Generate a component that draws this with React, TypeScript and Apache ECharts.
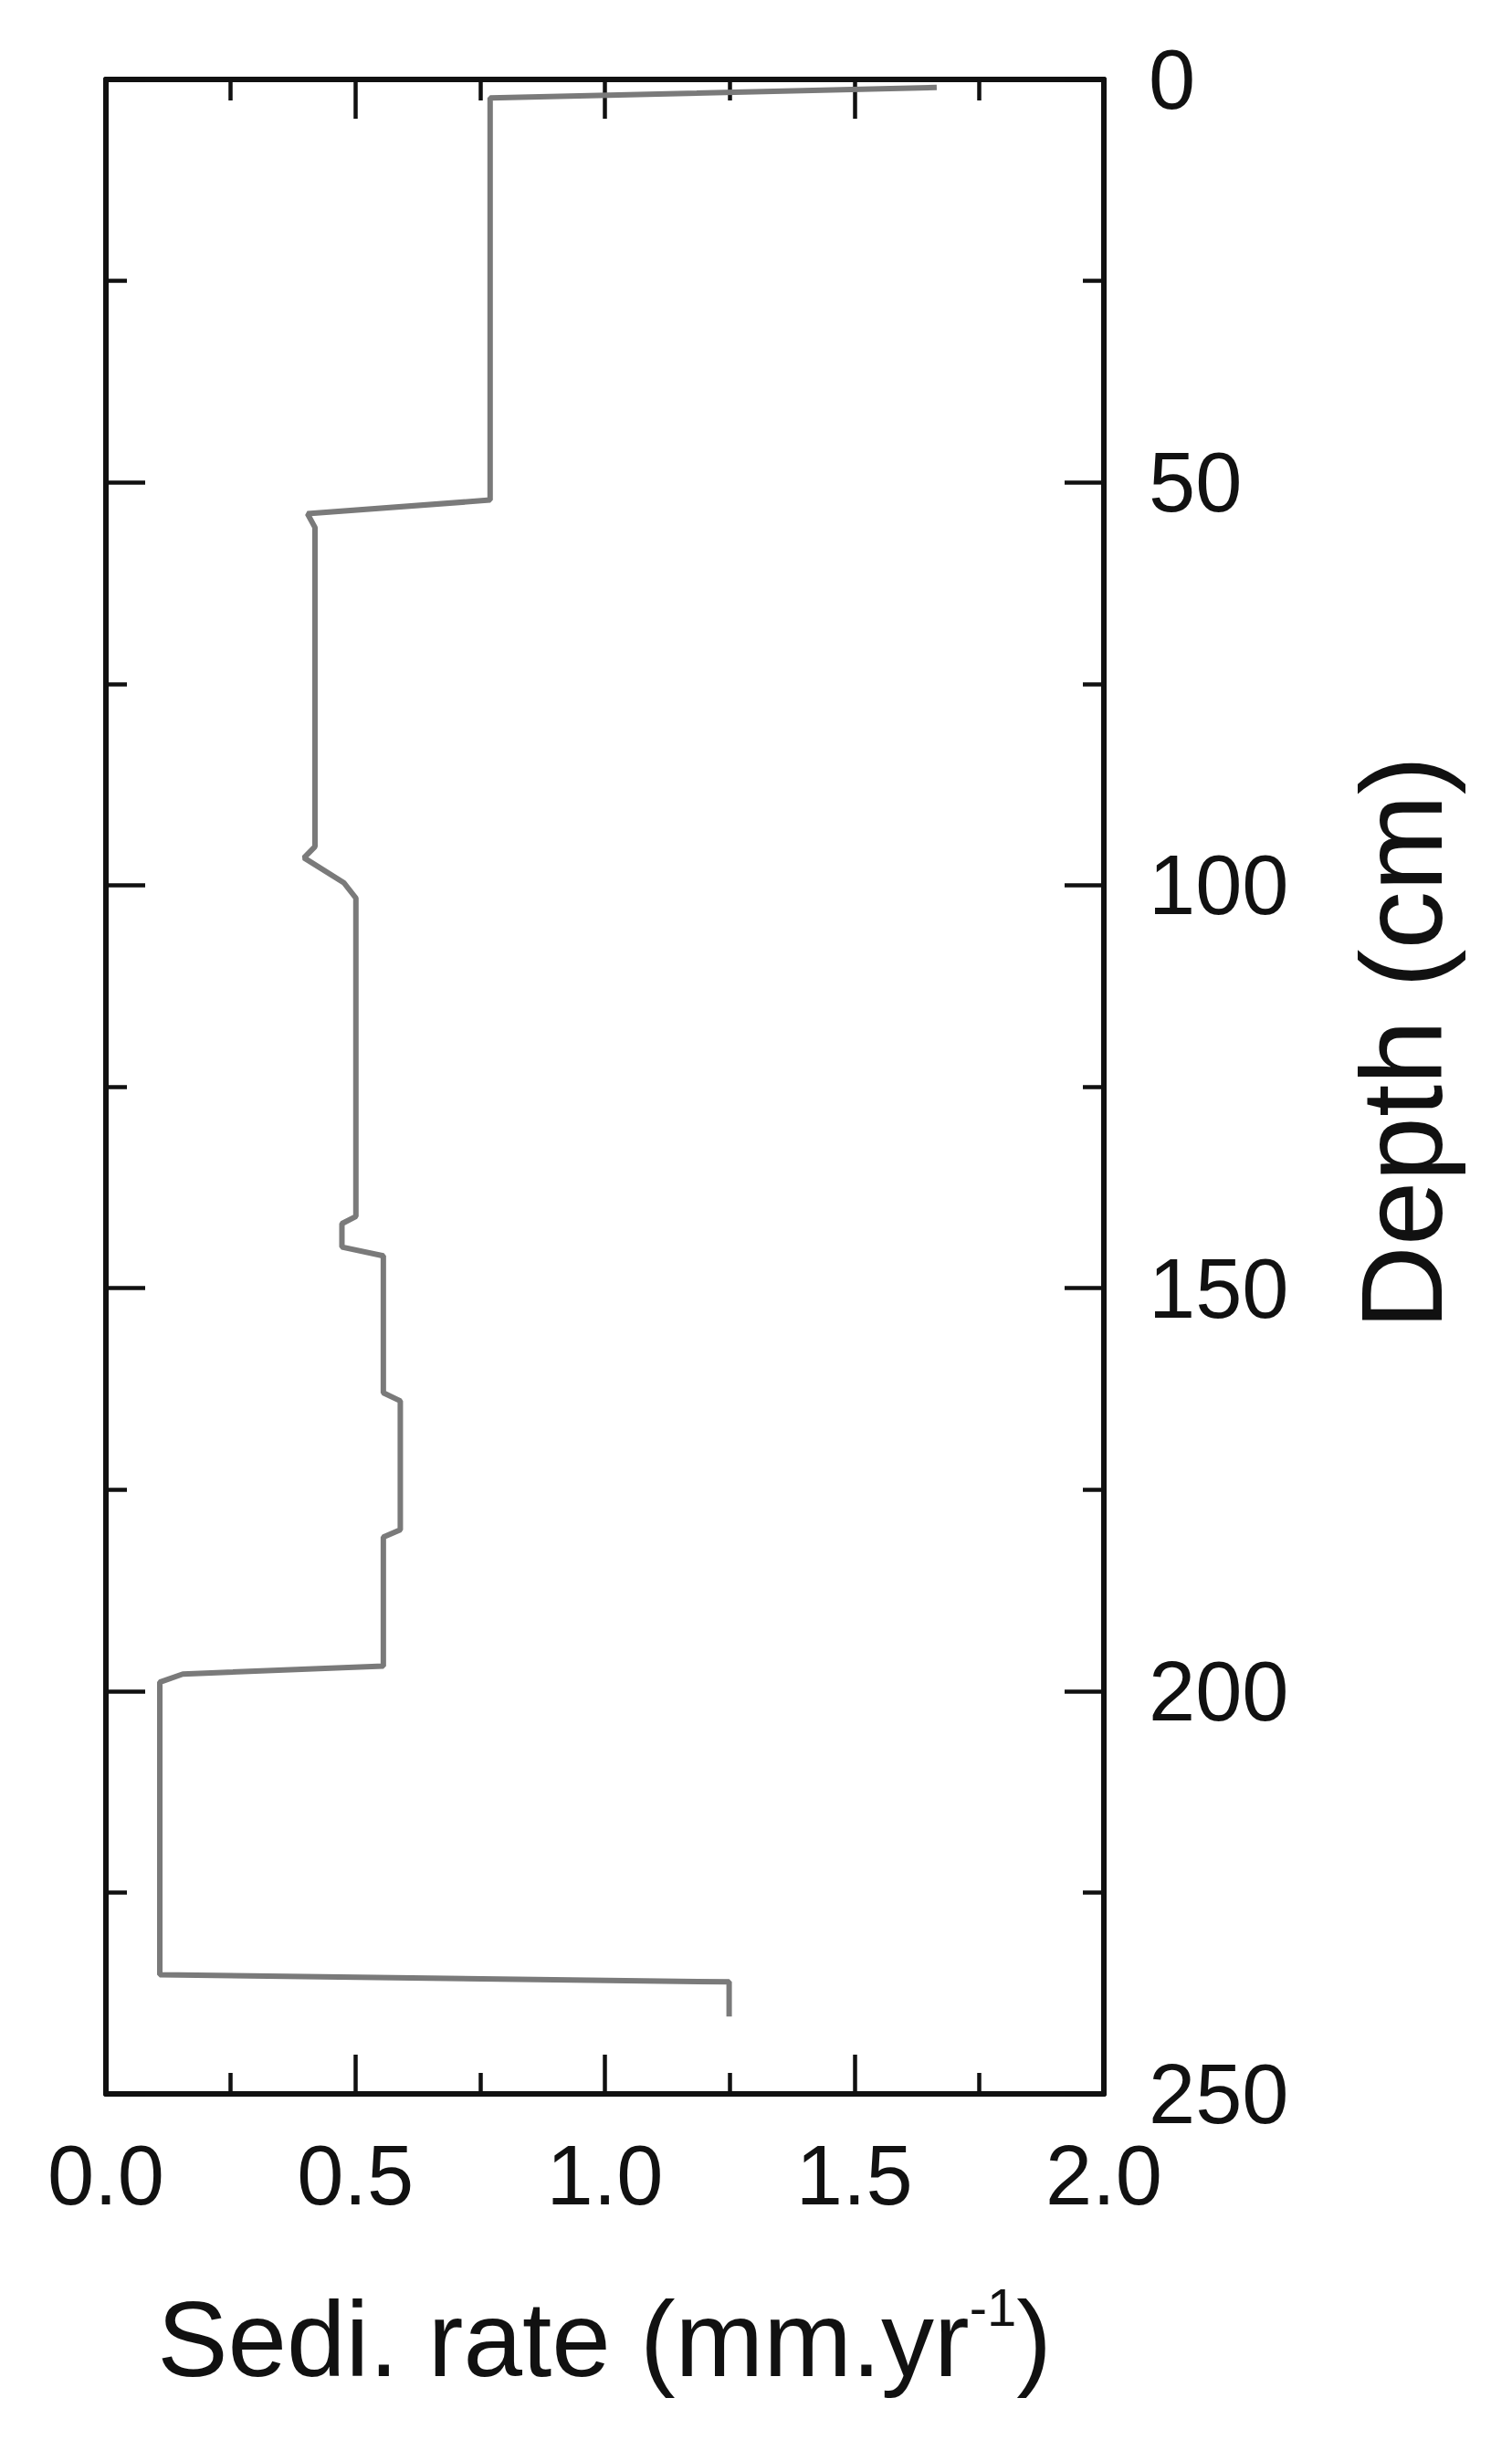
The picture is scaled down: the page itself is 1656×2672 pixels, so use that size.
import React, { useEffect, useRef } from "react";
import * as echarts from "echarts";

const sediRate = [1.665, 0.77, 0.77, 0.404, 0.419, 0.419, 0.397, 0.477, 0.501, 0.501, 0.473, 0.473, 0.556, 0.556, 0.59, 0.59, 0.556, 0.556, 0.154, 0.108, 0.108, 1.249, 1.249];
const depthCm = [1.0, 2.3, 52.2, 53.9, 55.6, 95.2, 96.6, 99.7, 101.6, 141.1, 142.0, 144.9, 146.0, 163.0, 164.0, 180.0, 180.9, 196.9, 197.9, 198.9, 235.2, 236.1, 240.4];

const rateMin = 0;
const rateMax = 2.0;
const rateInterval = 0.5;
const depthMin = 0;
const depthMax = 250;
const depthInterval = 50;

const FONT = "'Liberation Sans', Arial, sans-serif";

export default function App() {
  const ref = useRef<HTMLDivElement>(null);
  useEffect(() => {
    document.body.style.margin = "0";
    if (!ref.current) return;
    const chart = echarts.init(ref.current, undefined, { renderer: "svg" });
    const axisLine = { show: true, onZero: false, lineStyle: { color: "#111", width: 6 } };
    const axisTick = { show: true, inside: true, length: 43, lineStyle: { color: "#111", width: 4.5 } };
    const minorTick = { show: true, splitNumber: 2, length: 23, lineStyle: { color: "#111", width: 4.5 } };
    const xBase = {
      type: "value",
      min: rateMin,
      max: rateMax,
      interval: rateInterval,
      axisLine,
      axisTick,
      minorTick,
      splitLine: { show: false },
      minorSplitLine: { show: false },
    };
    const yBase = {
      type: "value",
      inverse: true,
      min: depthMin,
      max: depthMax,
      interval: depthInterval,
      axisLine,
      axisTick,
      minorTick,
      splitLine: { show: false },
      minorSplitLine: { show: false },
    };
    chart.setOption({
      animation: false,
      backgroundColor: "#fff",
      grid: { left: 116, right: 447, top: 87, bottom: 379, containLabel: false },
      xAxis: [
        {
          ...xBase,
          position: "bottom",
          axisLabel: {
            show: true,
            margin: 43,
            fontSize: 92,
            fontFamily: FONT,
            color: "#111",
            formatter: (v: number) => v.toFixed(1),
          },
        },
        { ...xBase, position: "top", axisLabel: { show: false } },
      ],
      yAxis: [
        {
          ...yBase,
          position: "right",
          axisLabel: {
            show: true,
            margin: 49,
            fontSize: 92,
            fontFamily: FONT,
            color: "#111",
            align: "left",
          },
        },
        { ...yBase, position: "left", axisLabel: { show: false } },
      ],
      series: [
        {
          type: "line",
          xAxisIndex: 0,
          yAxisIndex: 0,
          showSymbol: false,
          symbol: "none",
          lineStyle: { color: "#7a7a7a", width: 6 },
          data: sediRate.map((r, i) => [r, depthCm[i]]),
        },
      ],
      graphic: [
        {
          type: "text",
          x: 662,
          y: 2562,
          style: {
            text: "{a|Sedi. rate (mm.yr}{b|-1}{a|)}",
            textAlign: "center",
            textVerticalAlign: "middle",
            fill: "#111",
            rich: {
              a: { fontSize: 116, fontFamily: FONT, fill: "#111", lineHeight: 130 },
              b: { fontSize: 58, fontFamily: FONT, fill: "#111", verticalAlign: "top", lineHeight: 130 },
            },
          },
        },
        {
          type: "text",
          x: 1535,
          y: 1142,
          rotation: Math.PI / 2,
          style: {
            text: "Depth (cm)",
            font: `127px ${FONT}`,
            textAlign: "center",
            textVerticalAlign: "middle",
            fill: "#111",
          },
        },
      ],
    });
    return () => chart.dispose();
  }, []);
  return <div ref={ref} style={{ width: 1656, height: 2672 }} />;
}
